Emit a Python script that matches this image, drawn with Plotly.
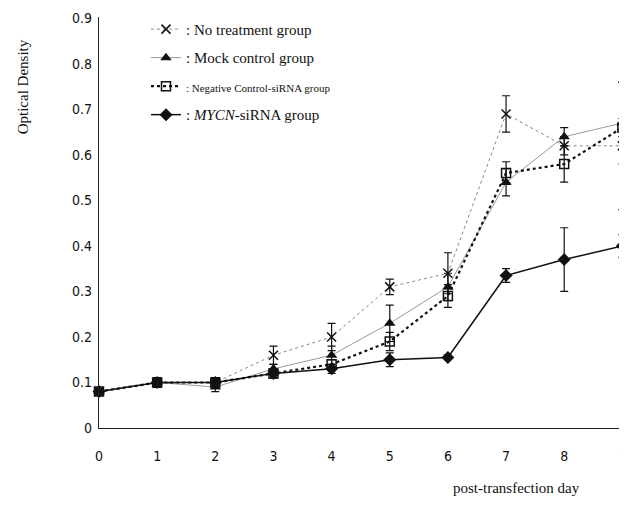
import plotly.graph_objects as go

days = [0, 1, 2, 3, 4, 5, 6, 7, 8, 9]
x_ticks = ["0", "1", "2", "3", "4", "5", "6", "7", "8", "9"]
y_ticks = [0, 0.1, 0.2, 0.3, 0.4, 0.5, 0.6, 0.7, 0.8, 0.9]

no_treat = [0.08, 0.10, 0.10, 0.16, 0.20, 0.31, 0.34, 0.69, 0.62, 0.62]
no_treat_err = [0.005, 0.01, 0.01, 0.02, 0.03, 0.017, 0.045, 0.04, 0.02, 0.14]

mock = [0.08, 0.10, 0.09, 0.13, 0.16, 0.23, 0.31, 0.54, 0.64, 0.67]
mock_err = [0.005, 0.01, 0.01, 0.01, 0.02, 0.04, 0.03, 0.03, 0.02, 0.09]

neg_ctrl = [0.08, 0.10, 0.10, 0.12, 0.14, 0.19, 0.29, 0.56, 0.58, 0.66]
neg_ctrl_err = [0.005, 0.01, 0.01, 0.01, 0.01, 0.02, 0.025, 0.025, 0.04, 0.02]

mycn = [0.08, 0.10, 0.10, 0.12, 0.13, 0.15, 0.155, 0.335, 0.37, 0.40]
mycn_err = [0.005, 0.01, 0.01, 0.01, 0.01, 0.015, 0.005, 0.015, 0.07, 0.025]

names = [
    ": No treatment group",
    ": Mock control group",
    "<span style='font-size:11px'>: Negative Control-siRNA group</span>",
    ": <i>MYCN</i>-siRNA group",
]

fig = go.Figure()

def add(y, err, name, line, marker, grp):
    fig.add_trace(go.Scatter(
        x=days, y=y, name=name, mode="lines+markers",
        line=line, marker=marker, legendgroup=grp, cliponaxis=False,
        error_y=dict(type="data", array=err, visible=True,
                     color="#111", thickness=1.2, width=4),
    ))

add(no_treat, no_treat_err, names[0],
    dict(color="#888", width=1, dash="dot"),
    dict(symbol="x-thin-open", size=9, color="#111", line=dict(width=1.5, color="#111")), "a")
add(mock, mock_err, names[1],
    dict(color="#999", width=1),
    dict(symbol="triangle-up", size=10, color="#111"), "b")
add(neg_ctrl, neg_ctrl_err, names[2],
    dict(color="#111", width=2.2, dash="dot"),
    dict(symbol="square-open", size=9, color="#111", line=dict(width=1.5, color="#111")), "c")
add(mycn, mycn_err, names[3],
    dict(color="#111", width=1.5),
    dict(symbol="diamond", size=10, color="#111"), "d")

tick_font = dict(family="Liberation Sans Narrow, DejaVu Sans Condensed, Arial Narrow, sans-serif",
                 size=14, color="#111")

fig.update_layout(
    width=619, height=509,
    margin=dict(l=91, r=0, t=9, b=89, autoexpand=False),
    paper_bgcolor="white", plot_bgcolor="white",
    showlegend=True,
    legend=dict(x=0.089, y=1.01, xanchor="left", yanchor="top",
                font=dict(family="Liberation Serif, Times New Roman, serif", size=15, color="#111"),
                bgcolor="rgba(0,0,0,0)", traceorder="grouped", tracegroupgap=6,
                itemwidth=30),
    xaxis=dict(range=[0, 9.08], tickmode="array", tickvals=days, ticktext=x_ticks,
               showgrid=False, zeroline=False, showline=True, linecolor="#222", linewidth=1.2,
               ticks="", tickfont=tick_font, ticklabelstandoff=15, automargin=False),
    yaxis=dict(range=[0, 0.903], tickmode="array", tickvals=y_ticks,
               ticktext=["0" if v == 0 else f"{v:.1f}" for v in y_ticks],
               showgrid=False, zeroline=False, showline=True, linecolor="#222", linewidth=1.2,
               ticks="", tickfont=tick_font, ticklabelstandoff=3, automargin=False),
    annotations=[
        dict(text="Optical Density", textangle=-90, xref="paper", yref="paper",
             x=-0.145, y=0.83, xanchor="center", yanchor="middle", showarrow=False,
             font=dict(family="Liberation Serif, Times New Roman, serif", size=15, color="#111")),
        dict(text="post-transfection day", xref="paper", yref="paper",
             x=0.79, y=-0.145, xanchor="center", yanchor="middle", showarrow=False,
             font=dict(family="Liberation Serif, Times New Roman, serif", size=15, color="#111")),
    ],
)

fig.write_html("out.html")
